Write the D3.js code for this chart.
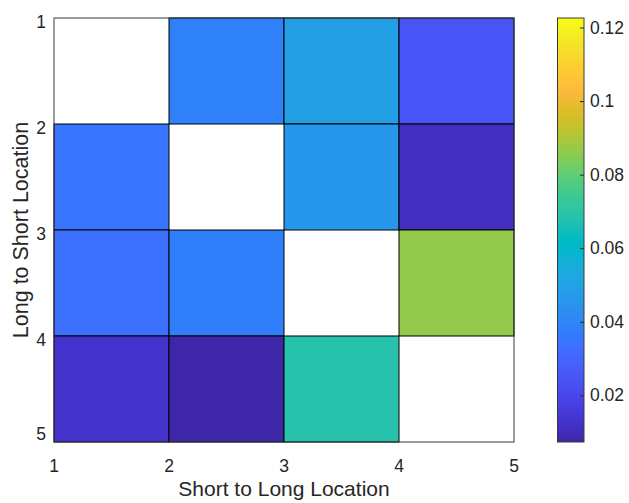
<!DOCTYPE html>
<html>
<head>
<meta charset="utf-8">
<script src="https://cdn.jsdelivr.net/npm/d3@7"></script>
<style>
  html, body { margin: 0; padding: 0; background: #fff; }
  svg { display: block; font-family: "Liberation Sans", Arial, Helvetica, sans-serif; }
</style>
</head>
<body>
<svg id="chart" width="629" height="503"></svg>
<script>
// Grid positions (cell i spans [i, i+1] on both axes)
const cols = [1, 2, 3, 4];
const rows = [1, 2, 3, 4];

// Values per row (Long to Short location), columns = Short to Long location; null = no data
const row1 = [null, 0.0384, 0.0494, 0.0247];
const row2 = [0.0348, null, 0.0457, 0.0110];
const row3 = [0.0335, 0.0373, null, 0.0865];
const row4 = [0.0128, 0.0073, 0.0683, null];
const matrix = [row1, row2, row3, row4];

const axisTicks = [1, 2, 3, 4, 5];
const colorLimits = [0.0073, 0.1226];
const colorTicks = [0.02, 0.04, 0.06, 0.08, 0.1, 0.12];

const xLabel = "Short to Long Location";
const yLabel = "Long to Short Location";

// Parula colormap (64 entries)
const parula = [
[0.2422,0.1504,0.6603],[0.2504,0.1650,0.7076],[0.2578,0.1818,0.7511],[0.2647,0.1978,0.7952],
[0.2706,0.2147,0.8364],[0.2751,0.2342,0.8710],[0.2783,0.2559,0.8991],[0.2803,0.2782,0.9221],
[0.2813,0.3006,0.9414],[0.2810,0.3228,0.9579],[0.2795,0.3447,0.9717],[0.2760,0.3667,0.9829],
[0.2699,0.3892,0.9906],[0.2602,0.4123,0.9952],[0.2440,0.4358,0.9988],[0.2206,0.4603,0.9973],
[0.1963,0.4847,0.9892],[0.1834,0.5074,0.9798],[0.1786,0.5289,0.9682],[0.1764,0.5499,0.9520],
[0.1687,0.5703,0.9359],[0.1540,0.5902,0.9218],[0.1460,0.6091,0.9079],[0.1380,0.6276,0.8973],
[0.1248,0.6459,0.8883],[0.1113,0.6635,0.8763],[0.0952,0.6798,0.8598],[0.0689,0.6948,0.8394],
[0.0297,0.7082,0.8163],[0.0036,0.7203,0.7917],[0.0067,0.7312,0.7660],[0.0433,0.7411,0.7394],
[0.0964,0.7500,0.7120],[0.1408,0.7584,0.6842],[0.1717,0.7670,0.6554],[0.1938,0.7758,0.6251],
[0.2161,0.7843,0.5923],[0.2470,0.7918,0.5567],[0.2906,0.7973,0.5188],[0.3406,0.8008,0.4789],
[0.3909,0.8029,0.4354],[0.4456,0.8024,0.3909],[0.5044,0.7993,0.3480],[0.5616,0.7942,0.3045],
[0.6174,0.7876,0.2612],[0.6720,0.7793,0.2227],[0.7242,0.7698,0.1910],[0.7738,0.7598,0.1646],
[0.8203,0.7498,0.1535],[0.8634,0.7406,0.1596],[0.9035,0.7330,0.1774],[0.9393,0.7288,0.2100],
[0.9728,0.7298,0.2394],[0.9956,0.7434,0.2371],[0.9970,0.7659,0.2199],[0.9952,0.7893,0.2028],
[0.9892,0.8136,0.1885],[0.9786,0.8386,0.1766],[0.9676,0.8639,0.1643],[0.9610,0.8890,0.1537],
[0.9597,0.9135,0.1423],[0.9628,0.9373,0.1265],[0.9691,0.9606,0.1064],[0.9769,0.9839,0.0805]
].map(c => d3.rgb(c[0] * 255, c[1] * 255, c[2] * 255).formatHex());

const svg = d3.select("#chart");

const plot = { left: 54, right: 514, top: 18, bottom: 442 };
const bar = { left: 557.5, right: 584, top: 18, bottom: 442 };

const x = d3.scaleLinear().domain([1, 5]).range([plot.left, plot.right]);
const y = d3.scaleLinear().domain([1, 5]).range([plot.top, plot.bottom]);

const color = d3.scaleLinear()
  .domain(parula.map((_, i) => colorLimits[0] + (colorLimits[1] - colorLimits[0]) * i / (parula.length - 1)))
  .range(parula)
  .interpolate(d3.interpolateRgb)
  .clamp(true);

// Cells
const cells = [];
rows.forEach((r, ri) => cols.forEach((c, ci) => cells.push({ r, c, v: matrix[ri][ci] })));

const cellG = svg.append("g");
cellG.selectAll("rect.cell")
  .data(cells.filter(d => d.v === null))
  .join("rect")
  .attr("x", d => x(d.c)).attr("y", d => y(d.r))
  .attr("width", d => x(d.c + 1) - x(d.c))
  .attr("height", d => y(d.r + 1) - y(d.r))
  .attr("fill", "#ffffff");

cellG.selectAll("rect.val")
  .data(cells.filter(d => d.v !== null))
  .join("rect")
  .attr("class", "val")
  .attr("x", d => x(d.c)).attr("y", d => y(d.r))
  .attr("width", d => x(d.c + 1) - x(d.c))
  .attr("height", d => y(d.r + 1) - y(d.r))
  .attr("fill", d => color(d.v))
  .attr("stroke", "#000")
  .attr("stroke-width", 1);

// Axes box
svg.append("rect")
  .attr("x", plot.left).attr("y", plot.top)
  .attr("width", plot.right - plot.left).attr("height", plot.bottom - plot.top)
  .attr("fill", "none").attr("stroke", "#3a3a3a").attr("stroke-width", 1);

// Tick labels
const tickFont = 17.5;
svg.append("g").selectAll("text")
  .data(axisTicks)
  .join("text")
  .attr("x", d => x(d))
  .attr("y", 472)
  .attr("text-anchor", "middle")
  .attr("font-size", tickFont)
  .attr("fill", "#262626")
  .text(d => d);

svg.append("g").selectAll("text")
  .data(axisTicks)
  .join("text")
  .attr("x", 46)
  .attr("y", d => Math.min(y(d) + 3.5, plot.bottom - 8))
  .attr("dy", "0.35em")
  .attr("text-anchor", "end")
  .attr("font-size", tickFont)
  .attr("fill", "#262626")
  .text(d => d);

// Axis labels
svg.append("text")
  .attr("x", (plot.left + plot.right) / 2)
  .attr("y", 496)
  .attr("text-anchor", "middle")
  .attr("font-size", 21)
  .attr("fill", "#262626")
  .text(xLabel);

svg.append("text")
  .attr("transform", `translate(28,${(plot.top + plot.bottom) / 2}) rotate(-90)`)
  .attr("text-anchor", "middle")
  .attr("font-size", 21.5)
  .attr("fill", "#262626")
  .text(yLabel);

// Colorbar
const defs = svg.append("defs");
const grad = defs.append("linearGradient")
  .attr("id", "cbar").attr("x1", 0).attr("y1", 1).attr("x2", 0).attr("y2", 0);
grad.selectAll("stop")
  .data(parula)
  .join("stop")
  .attr("offset", (_, i) => i / (parula.length - 1))
  .attr("stop-color", d => d);

const cy = d3.scaleLinear().domain(colorLimits).range([bar.bottom, bar.top]);

svg.append("rect")
  .attr("x", bar.left).attr("y", bar.top)
  .attr("width", bar.right - bar.left).attr("height", bar.bottom - bar.top)
  .attr("fill", "url(#cbar)")
  .attr("stroke", "#3a3a3a").attr("stroke-width", 1);

const cbAxis = d3.axisRight(cy)
  .tickValues(colorTicks)
  .tickSize(0)
  .tickPadding(6)
  .tickFormat(d => String(+d.toFixed(2)));

const cbG = svg.append("g")
  .attr("transform", `translate(${bar.right},0)`)
  .call(cbAxis);
cbG.select(".domain").remove();
cbG.selectAll("text").attr("font-size", tickFont).attr("fill", "#262626")
  .attr("font-family", "Liberation Sans, Arial, sans-serif");
cbG.selectAll(".tick").append("line")
  .attr("x1", -4).attr("x2", 0)
  .attr("stroke", "#262626").attr("stroke-width", 1);
</script>
</body>
</html>
